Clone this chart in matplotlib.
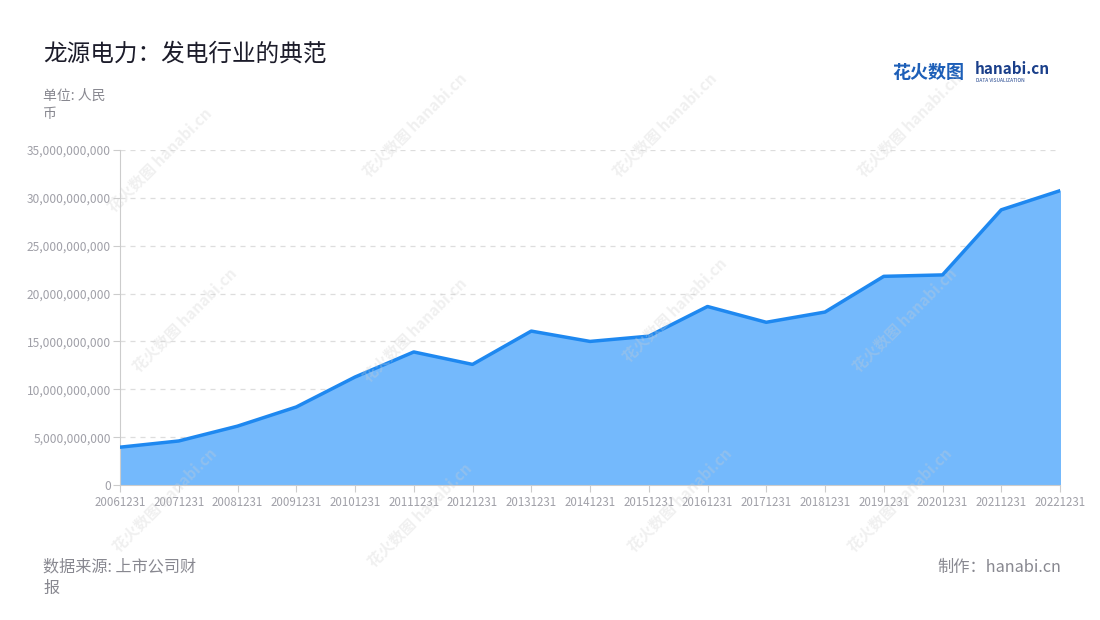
import matplotlib.pyplot as plt
from matplotlib.ticker import FuncFormatter

plt.rcParams['font.family'] = ['Noto Sans CJK SC', 'DejaVu Sans']

years = ['20061231', '20071231', '20081231', '20091231', '20101231', '20111231',
         '20121231', '20131231', '20141231', '20151231', '20161231', '20171231',
         '20181231', '20191231', '20201231', '20211231', '20221231']
values = [3.95e9, 4.6e9, 6.15e9, 8.15e9, 11.28e9, 13.9e9, 12.6e9, 16.08e9, 15.0e9,
          15.55e9, 18.65e9, 17.0e9, 18.07e9, 21.8e9, 21.95e9, 28.75e9, 30.75e9]

fig = plt.figure(figsize=(11, 6.2), dpi=100)
ax = fig.add_axes([120 / 1100, 1 - 485 / 620, 940 / 1100, 335 / 620])

x = list(range(len(years)))
ax.fill_between(x, values, 0, color='#74b9fc', zorder=2)
ax.plot(x, values, color='#1e88f0', lw=2.5, zorder=3)

ax.set_xlim(0, len(years) - 1)
ax.set_ylim(0, 35e9)
ax.set_yticks([i * 5e9 for i in range(8)])
ax.yaxis.set_major_formatter(FuncFormatter(lambda v, p: f'{int(v):,}'))
ax.set_xticks(x)
ax.set_xticklabels(years)
ax.grid(axis='y', color='#dddddd', ls=(0, (4, 4)), lw=0.9, zorder=1)

for s in ['top', 'right']:
    ax.spines[s].set_visible(False)
ax.spines['left'].set_color('#cccccc')
ax.spines['bottom'].set_color('#cccccc')
ax.tick_params(axis='both', colors='#cccccc', length=5)
ax.tick_params(axis='x', labelsize=8.3, pad=3)
ax.tick_params(axis='y', labelsize=8.6, pad=1.5)
for t in ax.get_xticklabels() + ax.get_yticklabels():
    t.set_color('#a0a0a8')

# watermarks
marks = [(160, 160), (415, 125), (665, 125), (910, 125),
         (185, 320), (415, 330), (675, 310), (905, 320),
         (165, 500), (420, 515), (680, 500), (900, 500)]
for wx, wy in marks:
    fig.text(wx / 1100, 1 - wy / 620, '花火数图 hanabi.cn', rotation=45, fontsize=11,
             color='#cfcfcf', alpha=0.3, ha='center', va='center',
             fontweight='bold', zorder=10)

fig.text(43 / 1100, 1 - 54 / 620, '龙源电力：发电行业的典范', fontsize=17,
         color='#1c1c2a', va='center')
fig.text(43 / 1100, 1 - 96 / 620, '单位: 人民', fontsize=10, color='#888890', va='center')
fig.text(43 / 1100, 1 - 114 / 620, '币', fontsize=10, color='#888890', va='center')

fig.text(892 / 1100, 1 - 72 / 620, '花火数图', fontsize=13, color='#1d5fb8',
         fontweight='bold', va='center')
fig.text(975 / 1100, 1 - 69 / 620, 'hanabi.cn', fontsize=11, color='#1a3f8a',
         fontweight='bold', va='center')
fig.text(976 / 1100, 1 - 80 / 620, 'DATA VISUALIZATION', fontsize=3.5,
         color='#1a3f8a', va='center')

fig.text(43 / 1100, 1 - 567 / 620, '数据来源: 上市公司财', fontsize=11.6,
         color='#888890', va='center')
fig.text(43 / 1100, 1 - 588 / 620, '报', fontsize=11.6, color='#888890', va='center')
fig.text(1061 / 1100, 1 - 567 / 620, '制作：hanabi.cn', fontsize=11.7,
         color='#888890', va='center', ha='right')

fig.savefig('out.png', dpi=100)
